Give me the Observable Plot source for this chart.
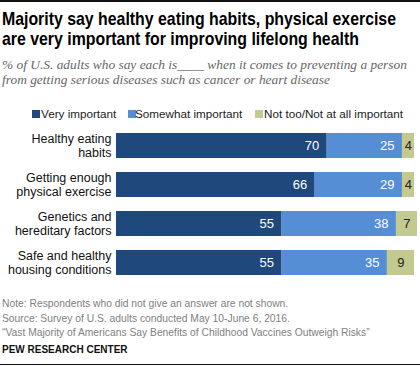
<!DOCTYPE html>
<html>
<head>
<meta charset="utf-8">
<script src="https://cdn.jsdelivr.net/npm/d3@7"></script>
<script src="https://cdn.jsdelivr.net/npm/@observablehq/plot@0.6"></script>
<style>
  html, body { margin: 0; padding: 0; background: #fff; }
  #wrap { position: relative; width: 420px; height: 367px; overflow: hidden; font-family: "Liberation Sans", Arial, sans-serif; }
  .abs { position: absolute; white-space: nowrap; }
  #topline { left: 0; top: 0; width: 420px; height: 2px; background: #111; }
  #botline { left: 0; top: 364px; width: 420px; height: 1px; background: #111; }
  #title { left: 2px; top: 9px; font-family: "Liberation Sans", Arial, sans-serif; font-weight: bold; font-size: 19px; line-height: 20px; color: #000; transform-origin: 0 0; }
  #subtitle { left: 2px; top: 57px; font-family: "Liberation Serif", serif; font-style: italic; font-size: 13.4px; line-height: 15px; color: #666; }
  #legend { left: 0; top: 106px; font-size: 11.7px; color: #222; }
  .sw { position: absolute; top: 4px; width: 8px; height: 8px; }
  .lt { position: absolute; top: 0; line-height: 16px; }
  #plot { left: 0; top: 100px; }
  #notes { left: 2px; top: 297px; font-size: 10.3px; line-height: 14.5px; color: #808080; }
  #pew { left: 2px; top: 344px; font-size: 10px; font-weight: bold; color: #111; }
</style>
</head>
<body>
<div id="wrap">
  <div class="abs" id="topline"></div>
  <div class="abs" id="title"><span id="t1">Majority say healthy eating habits, physical exercise</span><br>are very important for improving lifelong health</div>
  <div class="abs" id="subtitle">% of U.S. adults who say each is____ when it comes to preventing a person<br>from getting serious diseases such as cancer or heart disease</div>
  <div class="abs" id="legend"></div>
  <div class="abs" id="plot"></div>
  <div class="abs" id="notes">Note: Respondents who did not give an answer are not shown.<br>Source: Survey of U.S. adults conducted May 10-June 6, 2016.<br>“Vast Majority of Americans Say Benefits of Childhood Vaccines Outweigh Risks”</div>
  <div class="abs" id="pew">PEW RESEARCH CENTER</div>
  <div class="abs" id="botline"></div>
</div>
<script>
const categories = ["Healthy eating\nhabits", "Getting enough\nphysical exercise", "Genetics and\nhereditary factors", "Safe and healthy\nhousing conditions"];
const responses = ["Very important", "Somewhat important", "Not too/Not at all important"];
const veryImportant = [70, 66, 55, 55];
const somewhatImportant = [25, 29, 38, 35];
const notImportant = [4, 4, 7, 9];
const colors = ["#1f487c", "#558ed5", "#c3c98f"];

// condense title to the reference width
const t1 = document.getElementById("t1");
const w1 = t1.getBoundingClientRect().width;
document.getElementById("title").style.transform = `scaleX(${394 / w1})`;

const series = [veryImportant, somewhatImportant, notImportant];
const rows = [];
categories.forEach((c, i) => {
  let x1 = 0;
  series.forEach((s, k) => {
    const v = s[i];
    rows.push({category: c, response: responses[k], value: v, x1: x1, x2: x1 + v, k: k});
    x1 += v;
  });
});

// legend
const legendPos = [[32, 41], [128, 135], [255, 264]];
const leg = document.getElementById("legend");
responses.forEach((r, k) => {
  const sw = document.createElement("div");
  sw.className = "sw"; sw.style.left = legendPos[k][0] + "px"; sw.style.background = colors[k];
  const t = document.createElement("div");
  t.className = "lt"; t.style.left = legendPos[k][1] + "px"; t.textContent = r;
  leg.appendChild(sw); leg.appendChild(t);
});

const chart = Plot.plot({
  width: 420,
  height: 200,
  marginLeft: 116,
  marginRight: 3,
  marginTop: 18.5,
  marginBottom: 10.5,
  x: {domain: [0, 100], axis: null},
  y: {domain: categories, padding: 0.35, axis: null},
  color: {domain: responses, range: colors},
  style: {fontFamily: "Liberation Sans, Arial, sans-serif", background: "transparent"},
  marks: [
    Plot.barX(rows, {y: "category", x1: "x1", x2: "x2", fill: "response"}),
    Plot.text(rows.filter(d => d.k < 2), {y: "category", x: "x2", text: d => String(d.value), textAnchor: "end", dx: -8, fill: "white", fontSize: 13}),
    Plot.text(rows.filter(d => d.k === 2), {y: "category", x: d => (d.x1 + d.x2) / 2, text: d => String(d.value), fill: "#222", fontSize: 13}),
    Plot.text(categories, {y: d => d, frameAnchor: "left", x: 0, text: d => d, textAnchor: "end", dx: -5, fill: "#111", fontSize: 12.5, lineHeight: 1.12})
  ]
});
document.getElementById("plot").appendChild(chart);
</script>
</body>
</html>
